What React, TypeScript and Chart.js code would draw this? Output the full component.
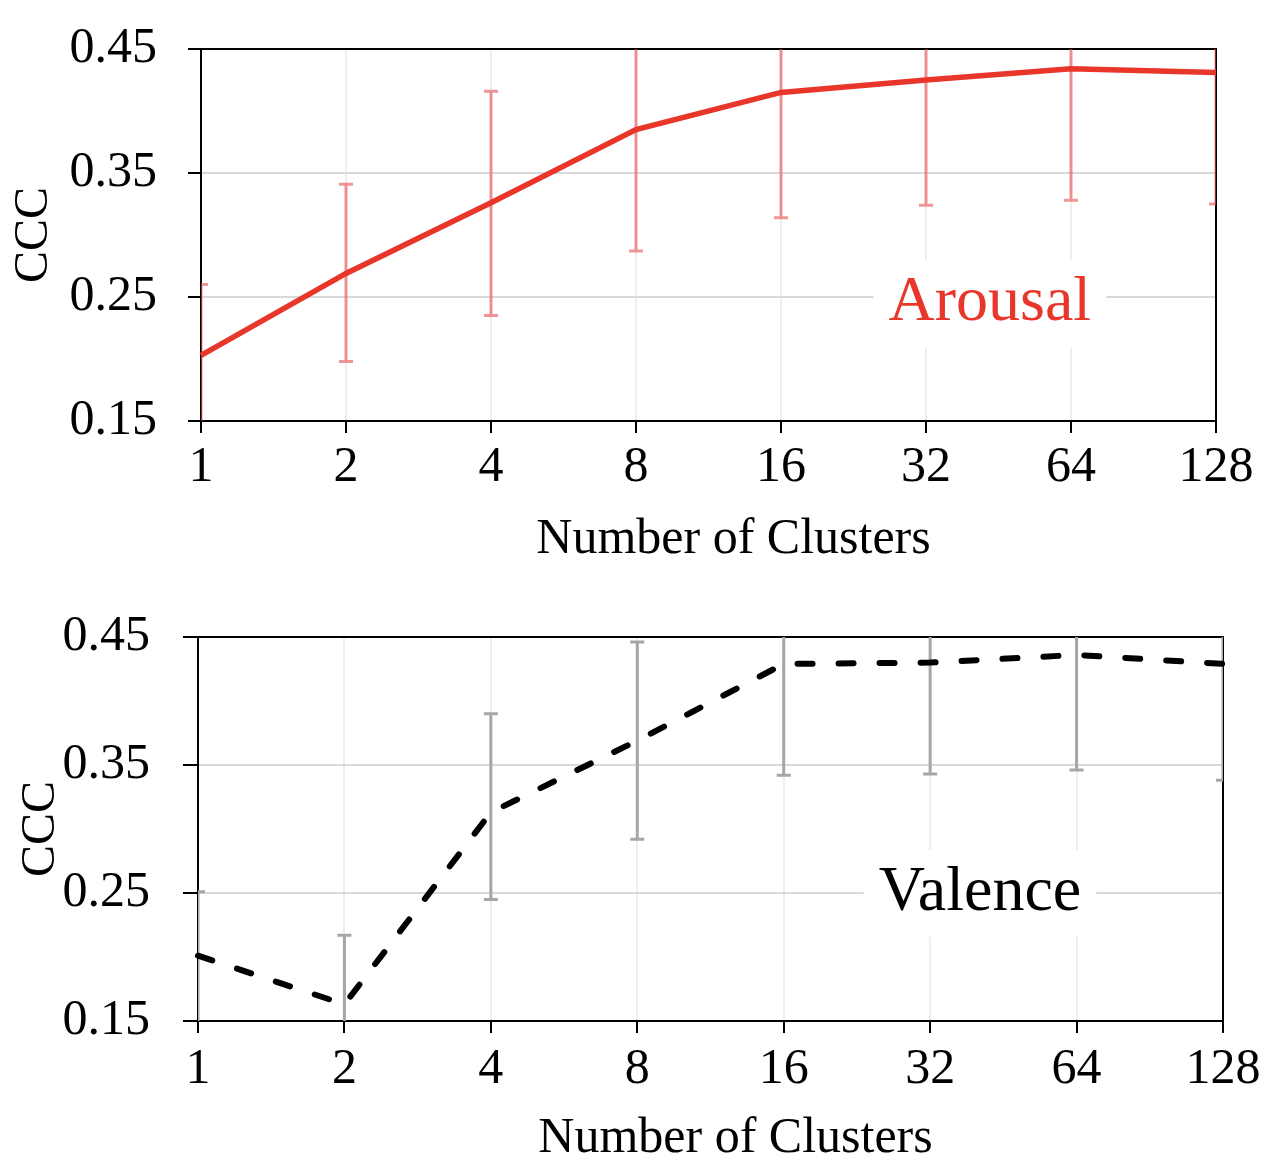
import { useEffect, useRef } from 'react';
import { Chart, registerables } from 'chart.js';

Chart.register(...registerables);

// data
const clusterLabels = ['1', '2', '4', '8', '16', '32', '64', '128'];
const yTickValues = [0.15, 0.25, 0.35, 0.45];

const arousalMean = [0.203, 0.269, 0.326, 0.385, 0.415, 0.425, 0.434, 0.431];
const arousalLow = [0.146, 0.198, 0.235, 0.287, 0.314, 0.324, 0.328, 0.325];
const arousalHigh = [0.260, 0.341, 0.416, 0.483, 0.516, 0.526, 0.540, 0.537];

const valenceMean = [0.201, 0.163, 0.313, 0.369, 0.429, 0.430, 0.436, 0.429];
const valenceLow = [0.148, 0.109, 0.245, 0.292, 0.342, 0.343, 0.346, 0.338];
const valenceHigh = [0.251, 0.217, 0.390, 0.446, 0.516, 0.517, 0.526, 0.520];

const SERIF = '"Liberation Serif", "Times New Roman", serif';

// error bars, frame and the in-plot label
const decor = {
  id: 'decor',
  beforeDatasetsDraw(chart: any, _args: any, opts: any) {
    const { ctx, chartArea: a, scales } = chart;
    const xs = scales.x;
    const ys = scales.y;

    // label with white box
    ctx.save();
    ctx.font = `${opts.labelSize}px ${SERIF}`;
    const lx = xs.getPixelForValue(opts.labelX);
    const ly = ys.getPixelForValue(opts.labelY);
    const w = ctx.measureText(opts.label).width;
    ctx.fillStyle = '#fff';
    ctx.fillRect(lx - w / 2 - 15, ly - 43, w + 30, 87);
    ctx.fillStyle = opts.labelColor;
    ctx.textAlign = 'center';
    ctx.textBaseline = 'middle';
    ctx.fillText(opts.label, lx, ly);
    ctx.restore();

    // frame
    ctx.save();
    ctx.strokeStyle = '#000';
    ctx.lineWidth = 2;
    ctx.strokeRect(a.left, a.top, a.right - a.left, a.bottom - a.top);
    ctx.restore();

    // error bars
    ctx.save();
    ctx.beginPath();
    ctx.rect(a.left, a.top, a.right - a.left, a.bottom - a.top);
    ctx.clip();
    ctx.strokeStyle = opts.errColor;
    ctx.lineWidth = 3;
    opts.low.forEach((lo: number, i: number) => {
      const px = xs.getPixelForValue(i);
      const p1 = ys.getPixelForValue(lo);
      const p2 = ys.getPixelForValue(opts.high[i]);
      ctx.beginPath();
      ctx.moveTo(px, p1);
      ctx.lineTo(px, p2);
      ctx.moveTo(px - 7, p1);
      ctx.lineTo(px + 7, p1);
      ctx.moveTo(px - 7, p2);
      ctx.lineTo(px + 7, p2);
      ctx.stroke();
    });
    ctx.restore();
  },
};

interface PanelProps {
  mean: number[];
  low: number[];
  high: number[];
  lineColor: string;
  lineWidth: number;
  errColor: string;
  dash: number[];
  label: string;
  labelColor: string;
  labelX: number;
  labelY: number;
  labelSize: number;
  width: number;
  height: number;
  area: { left: number; right: number; top: number; bottom: number };
  yTickLen: number;
  yTickPad: number;
  yTitlePad: number;
  xTickPad: number;
  xTitlePad: number;
}

const Panel = (p: PanelProps) => {
  const canvasRef = useRef<HTMLCanvasElement | null>(null);

  useEffect(() => {
    if (!canvasRef.current) return;

    const chart = new Chart(canvasRef.current, {
      type: 'line',
      data: {
        labels: clusterLabels,
        datasets: [
          {
            data: p.mean,
            borderColor: p.lineColor,
            borderWidth: p.lineWidth,
            borderDash: p.dash,
            borderCapStyle: p.dash.length ? 'round' : 'butt',
            pointRadius: 0,
            tension: 0,
          },
        ],
      },
      plugins: [decor],
      options: {
        animation: false,
        responsive: true,
        maintainAspectRatio: false,
        layout: {
          padding: { top: p.area.top, right: p.width - p.area.right, left: 0, bottom: 0 },
        },
        plugins: {
          legend: { display: false },
          tooltip: { enabled: false },
          decor: {
            low: p.low,
            high: p.high,
            errColor: p.errColor,
            label: p.label,
            labelColor: p.labelColor,
            labelX: p.labelX,
            labelY: p.labelY,
            labelSize: p.labelSize,
          },
        } as any,
        scales: {
          x: {
            offset: false,
            afterFit: (s: any) => {
              s.height = p.height - p.area.bottom;
            },
            grid: { color: '#eeeeee', lineWidth: 2, tickColor: '#000', tickLength: 12 },
            border: { color: '#000', width: 2 },
            ticks: { color: '#000', font: { size: 50, family: SERIF }, padding: p.xTickPad, maxRotation: 0 },
            title: {
              display: true,
              text: '\u2003Number of Clusters',
              color: '#000',
              font: { size: 50, family: SERIF },
              padding: { top: 0, bottom: p.xTitlePad },
            },
          },
          y: {
            min: 0.15,
            max: 0.45,
            afterFit: (s: any) => {
              s.width = p.area.left;
              s.paddingTop = 0;
              s.paddingBottom = 0;
            },
            afterBuildTicks: (s: any) => {
              s.ticks = yTickValues.map((v) => ({ value: v }));
            },
            grid: { color: '#d9d9d9', lineWidth: 2, tickColor: '#000', tickLength: p.yTickLen },
            border: { color: '#000', width: 2 },
            ticks: {
              color: '#000',
              font: { size: 50, family: SERIF },
              padding: p.yTickPad,
              callback: (v: any) => Number(v).toFixed(2),
            },
            title: {
              display: true,
              text: 'CCC',
              color: '#000',
              font: { size: 48, family: SERIF },
              padding: { top: p.yTitlePad, bottom: 0 },
            },
          },
        },
      },
    });

    return () => {
      chart.destroy();
    };
  }, [p]);

  return (
    <div style={{ position: 'relative', width: p.width, height: p.height }}>
      <canvas ref={canvasRef} />
    </div>
  );
};

const topArea = { left: 201, right: 1216, top: 49, bottom: 421 };
const bottomArea = { left: 198, right: 1223, top: 57, bottom: 441 };

export default function App() {
  return (
    <div style={{ position: 'absolute', left: 0, top: 0, width: 1268, height: 1172, background: '#fff' }}>
      <Panel
        mean={arousalMean}
        low={arousalLow}
        high={arousalHigh}
        lineColor="#e8362a"
        lineWidth={5.5}
        errColor="rgba(232, 80, 80, 0.6)"
        dash={[]}
        label="Arousal"
        labelColor="#e8362a"
        labelX={5.44}
        labelY={0.245}
        labelSize={64}
        width={1268}
        height={580}
        area={topArea}
        yTickLen={13}
        yTickPad={31}
        yTitlePad={6}
        xTickPad={5}
        xTitlePad={10}
      />
      <Panel
        mean={valenceMean}
        low={valenceLow}
        high={valenceHigh}
        lineColor="#000"
        lineWidth={6}
        errColor="#a6a6a6"
        dash={[15, 26]}
        label="Valence"
        labelColor="#000"
        labelX={5.34}
        labelY={0.25}
        labelSize={64}
        width={1268}
        height={592}
        area={bottomArea}
        yTickLen={15}
        yTickPad={33}
        yTitlePad={13}
        xTickPad={7}
        xTitlePad={3}
      />
    </div>
  );
}
